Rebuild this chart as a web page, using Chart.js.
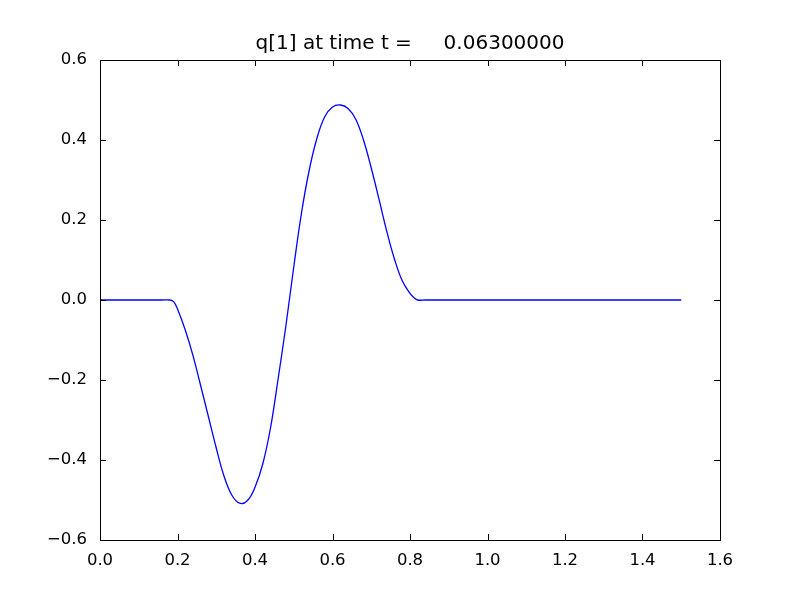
<!DOCTYPE html>
<html>
<head>
<meta charset="utf-8">
<script src="https://cdn.jsdelivr.net/npm/chart.js@4"></script>
<style>
  body { margin: 0; background: #fff; }
  canvas { display: block; }
</style>
</head>
<body>
<canvas id="qChart" width="800" height="600"></canvas>
<script>
const xs = [0.0, 0.16, 0.18, 0.19, 0.20, 0.22, 0.24, 0.26, 0.28, 0.30, 0.32, 0.34, 0.36, 0.38, 0.40,
            0.42, 0.44, 0.46, 0.48, 0.50, 0.52, 0.54, 0.56, 0.58, 0.60, 0.62, 0.64,
            0.66, 0.68, 0.70, 0.72, 0.74, 0.76, 0.78, 0.80, 0.81, 0.82, 0.84, 0.86, 1.5];
const qValues = [0.0, 0.0, 0.0, -0.004, -0.0225, -0.075, -0.139, -0.215, -0.2925, -0.37, -0.44, -0.4875, -0.508, -0.502, -0.468,
                 -0.41, -0.32, -0.195, -0.0625, 0.0825, 0.2175, 0.325, 0.405, 0.458, 0.4825, 0.4875, 0.479,
                 0.452, 0.40, 0.33, 0.252, 0.172, 0.102, 0.048, 0.0165, 0.006, 0.0, 0.0, 0.0, 0.0];
const titleText = 'q[1] at time t =     0.06300000';

const fmt = v => Number(v).toFixed(1).replace('-', '\u2212');

// matplotlib style frame + inward ticks on all four sides
const framePlugin = {
    id: 'frame',
    afterDraw(chart) {
        const ctx = chart.ctx;
        const a = chart.chartArea;
        const sx = chart.scales.x, sy = chart.scales.y;
        const tl = 6;
        ctx.save();
        ctx.strokeStyle = '#000';
        ctx.lineWidth = 1;
        ctx.beginPath();
        sx.ticks.forEach(t => {
            const px = Math.round(sx.getPixelForValue(t.value)) + 0.5;
            ctx.moveTo(px, a.bottom); ctx.lineTo(px, a.bottom - tl);
            ctx.moveTo(px, a.top); ctx.lineTo(px, a.top + tl);
        });
        sy.ticks.forEach(t => {
            const py = Math.round(sy.getPixelForValue(t.value)) + 0.5;
            ctx.moveTo(a.left, py); ctx.lineTo(a.left + tl, py);
            ctx.moveTo(a.right, py); ctx.lineTo(a.right - tl, py);
        });
        ctx.stroke();
        ctx.strokeRect(Math.round(a.left) + 0.5, Math.round(a.top) + 0.5,
                       Math.round(a.right - a.left), Math.round(a.bottom - a.top));
        // title
        ctx.fillStyle = '#000';
        ctx.font = '20px "DejaVu Sans"';
        ctx.textAlign = 'center';
        ctx.textBaseline = 'alphabetic';
        ctx.fillText(titleText, (a.left + a.right) / 2, 49);
        ctx.restore();
    }
};

const ctx = document.getElementById('qChart').getContext('2d');
new Chart(ctx, {
    type: 'line',
    data: {
        datasets: [{
            data: xs.map((x, i) => ({ x: x, y: qValues[i] })),
            borderColor: '#0000ff',
            borderWidth: 1.3,
            pointRadius: 0,
            fill: false,
            tension: 0.4
        }]
    },
    options: {
        responsive: false,
        animation: false,
        layout: { padding: { left: 0, right: 80, top: 60, bottom: 0 } },
        plugins: {
            legend: { display: false },
            title: { display: false },
            tooltip: { enabled: false }
        },
        scales: {
            x: {
                type: 'linear',
                min: 0, max: 1.6,
                grid: { display: false },
                border: { display: false },
                ticks: {
                    stepSize: 0.2,
                    padding: 3,
                    color: '#000',
                    maxRotation: 0,
                    font: { family: 'DejaVu Sans', size: 16.5 },
                    callback: v => fmt(v)
                },
                afterFit: s => { s.height = 60; }
            },
            y: {
                min: -0.6, max: 0.6,
                grid: { display: false },
                border: { display: false },
                ticks: {
                    stepSize: 0.2,
                    padding: 5,
                    color: '#000',
                    font: { family: 'DejaVu Sans', size: 16.5 },
                    callback: v => fmt(v)
                },
                afterFit: s => { s.width = 100; }
            }
        }
    },
    plugins: [framePlugin]
});
</script>
</body>
</html>
